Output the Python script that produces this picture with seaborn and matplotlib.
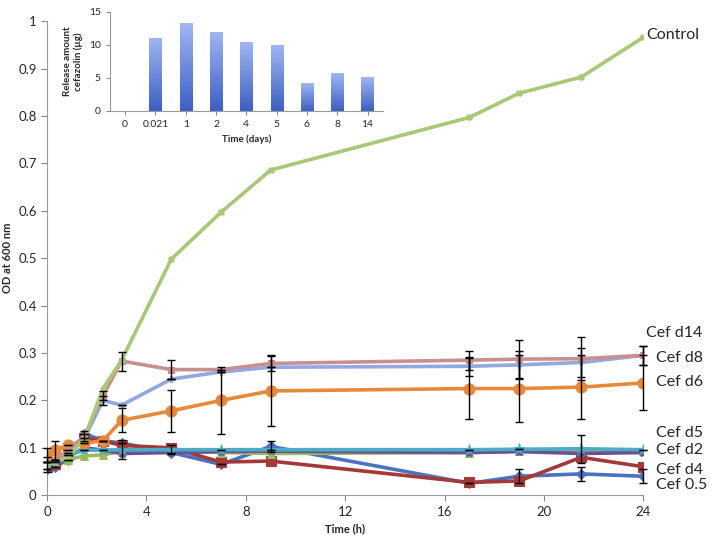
import numpy as np
import pandas as pd
import seaborn as sns
import matplotlib.pyplot as plt

# sampling times (h)
times = [0, 0.33, 0.83, 1.5, 2.25, 3, 5, 7, 9, 17, 19, 21.5, 24]

cef_05 = [0.055, 0.060, 0.075, 0.130, 0.115, 0.110, 0.090, 0.065, 0.103, 0.025, 0.040, 0.045, 0.040]
cef_d4 = [0.060, 0.065, 0.090, 0.120, 0.115, 0.105, 0.100, 0.070, 0.072, 0.027, 0.030, 0.080, 0.060]
cef_d1 = [0.065, 0.070, 0.075, 0.083, 0.085, 0.093, 0.094, 0.090, 0.088, 0.090, 0.093, 0.094, 0.094]
cef_d2 = [0.060, 0.065, 0.080, 0.100, 0.095, 0.088, 0.090, 0.092, 0.093, 0.090, 0.092, 0.088, 0.090]
cef_d5 = [0.065, 0.070, 0.085, 0.095, 0.095, 0.096, 0.096, 0.096, 0.096, 0.096, 0.097, 0.098, 0.096]
cef_d6 = [0.085, 0.095, 0.105, 0.110, 0.115, 0.158, 0.178, 0.200, 0.220, 0.225, 0.225, 0.228, 0.237]
cef_d8 = [0.070, 0.075, 0.090, 0.120, 0.200, 0.190, 0.245, 0.260, 0.270, 0.272, 0.275, 0.280, 0.295]
cef_d14 = [0.070, 0.075, 0.095, 0.125, 0.210, 0.283, 0.265, 0.265, 0.278, 0.285, 0.287, 0.288, 0.295]
control = [0.065, 0.070, 0.080, 0.120, 0.225, 0.285, 0.498, 0.597, 0.686, 0.797, 0.848, 0.882, 0.966]

err_05 = [0, 0, 0, 0, 0, 0, 0, 0, 0.012, 0, 0.015, 0.015, 0.015]
err_d5 = [0.015, 0, 0, 0, 0, 0.020, 0.010, 0, 0, 0, 0, 0.030, 0]
err_d6 = [0.015, 0.020, 0, 0, 0, 0.025, 0.045, 0.070, 0.075, 0.065, 0.070, 0.068, 0.058]
err_d8 = [0, 0, 0, 0, 0.010, 0, 0, 0, 0, 0.020, 0.030, 0.030, 0.020]
err_d14 = [0, 0, 0, 0.010, 0.010, 0.020, 0.020, 0, 0.015, 0.020, 0.040, 0.045, 0.020]

series = {
    "Cef 0.5": cef_05, "Cef d4": cef_d4, "Cef d1": cef_d1, "Cef d2": cef_d2,
    "Cef d5": cef_d5, "Cef d6": cef_d6, "Cef d8": cef_d8, "Cef d14": cef_d14,
    "Control": control,
}
errors = {"Cef 0.5": err_05, "Cef d5": err_d5, "Cef d6": err_d6,
          "Cef d8": err_d8, "Cef d14": err_d14}

# inset: cefazolin release per day
release_days = ["0", "0.021", "1", "2", "4", "5", "6", "8", "14"]
release_amount = [0, 11.1, 13.3, 12.0, 10.4, 10.0, 4.2, 5.7, 5.1]

# label placement (y in OD units)
label_y = {"Control": 0.97, "Cef d14": 0.342, "Cef d8": 0.289, "Cef d6": 0.238,
           "Cef d5": 0.131, "Cef d2": 0.095, "Cef d4": 0.053, "Cef 0.5": 0.021}

colors = {"Cef 0.5": "#4a72c0", "Cef d4": "#a33a38", "Cef d1": "#9bbb59",
          "Cef d2": "#6b4f98", "Cef d5": "#4bacc6", "Cef d6": "#e8893a",
          "Cef d8": "#92a8e0", "Cef d14": "#c98f8f", "Control": "#a8c878"}
markers = {"Cef 0.5": "D", "Cef d4": "s", "Cef d1": "^", "Cef d2": "X",
           "Cef d5": "*", "Cef d6": "o", "Cef d8": "P", "Cef d14": "s",
           "Control": "X"}
msizes = {"Cef 0.5": 5, "Cef d4": 7, "Cef d1": 6, "Cef d2": 5, "Cef d5": 8,
          "Cef d6": 8, "Cef d8": 5, "Cef d14": 4, "Control": 4}

df = pd.concat([pd.DataFrame({"time": times, "od": v, "group": k})
                for k, v in series.items()], ignore_index=True)

sns.set_style("white")
plt.rcParams["font.family"] = ["Lato", "DejaVu Sans"]

fig = plt.figure(figsize=(7.14, 5.43), dpi=100)
ax = fig.add_axes([0.066, 0.088, 0.835, 0.873])

for name in series:
    sub = df[df["group"] == name]
    sns.lineplot(data=sub, x="time", y="od", ax=ax, color=colors[name],
                 marker=markers[name], markersize=msizes[name], lw=2.6,
                 markeredgecolor=colors[name], legend=False, zorder=3)
    if name in errors:
        eb = ax.errorbar(times, series[name], yerr=errors[name], fmt="none",
                         ecolor="black", elinewidth=1, capsize=3, zorder=4)
        for art in eb.lines[1] + eb.lines[2]:
            art.set_clip_on(False)

for name, yv in label_y.items():
    xt = 24.1 if name in ("Control", "Cef d14") else 24.5
    ax.text(xt, yv, name, fontsize=11.5, va="center", ha="left")

ax.set_xlim(0, 24)
ax.set_ylim(0, 1)
ax.set_xticks(range(0, 25, 4))
ax.set_yticks(np.arange(0, 1.01, 0.1))
ax.set_yticklabels(["0", "0.1", "0.2", "0.3", "0.4", "0.5", "0.6", "0.7", "0.8", "0.9", "1"])
ax.set_xlabel("Time (h)", fontsize=8, fontweight="bold")
ax.set_ylabel("OD at 600 nm", fontsize=8, fontweight="bold")
ax.tick_params(labelsize=9.5, direction="out", length=4, color="#888888",
               left=True, bottom=True)
for s in ("top", "right"):
    ax.spines[s].set_visible(False)
for s in ("left", "bottom"):
    ax.spines[s].set_color("#999999")

# inset bar chart
ins = fig.add_axes([0.154, 0.796, 0.382, 0.182])
sns.barplot(x=release_days, y=release_amount, ax=ins, color="#6a8be0",
            width=0.4, saturation=1)
# vertical gradient fill for the bars
grad = np.linspace(0, 1, 64).reshape(-1, 1)
cmap = sns.blend_palette(["#3d5fc4", "#9fb6f2"], as_cmap=True)
for p in ins.patches:
    x0, y0 = p.get_x(), p.get_y()
    w, h = p.get_width(), p.get_height()
    if h <= 0:
        continue
    im = ins.imshow(grad, extent=[x0, x0 + w, y0, y0 + h], origin="lower",
                    cmap=cmap, aspect="auto", zorder=p.get_zorder())
    im.set_clip_path(p)
ins.set_xlim(-0.5, len(release_days) - 0.5)
ins.set_ylim(0, 15)
ins.set_yticks([0, 5, 10, 15])
ins.set_xlabel("Time (days)", fontsize=7, fontweight="bold")
ins.set_ylabel("Release amount\ncefazolin (µg)", fontsize=7, fontweight="bold")
ins.tick_params(labelsize=7.5, direction="out", length=3, color="#888888",
                left=True, bottom=True)
ins.patch.set_alpha(0)
for s in ("top", "right"):
    ins.spines[s].set_visible(False)
for s in ("left", "bottom"):
    ins.spines[s].set_color("#999999")

fig.savefig("out.png", dpi=100)
